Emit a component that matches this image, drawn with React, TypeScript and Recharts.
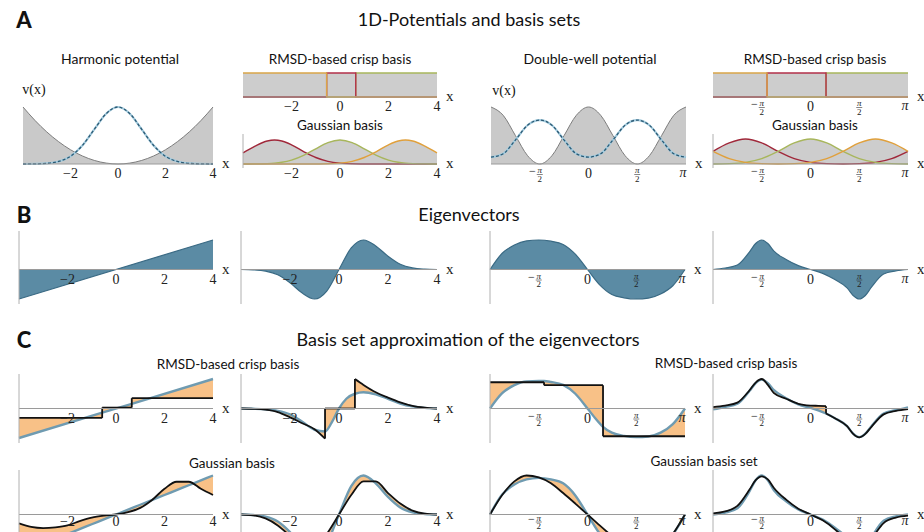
import React from 'react';
import { ComposedChart, Area, Line, Scatter, XAxis, YAxis, ReferenceLine } from 'recharts';

const SERIF = '"Liberation Serif", "Times New Roman", serif';
const SANS = 'Lato, "Open Sans", "DejaVu Sans", sans-serif';

// ---------- x grids ----------
const gridH = [-4, -3.5, -3, -2.5, -2, -1.5, -1, -0.5, 0, 0.5, 1, 1.5, 2, 2.5, 3, 3.5, 4];
const gridP = [-3.1416, -2.7489, -2.3562, -1.9635, -1.5708, -1.1781, -0.7854, -0.3927, 0, 0.3927, 0.7854, 1.1781, 1.5708, 1.9635, 2.3562, 2.7489, 3.1416];
const gridP2 = [-3.1416, -2.7489, -2.3562, -1.9635, -1.7671, -1.5708, -1.3744, -1.1781, -0.7854, -0.3927, 0, 0.3927, 0.7854, 1.1781, 1.3744, 1.5708, 1.7671, 1.9635, 2.3562, 2.7489, 3.1416];

// ---------- A: potentials & basis sets ----------
const harmonicPotential = [1, 0.766, 0.563, 0.391, 0.25, 0.141, 0.063, 0.016, 0, 0.016, 0.063, 0.141, 0.25, 0.391, 0.563, 0.766, 1];
const harmonicDensity = [0, 0.002, 0.011, 0.044, 0.135, 0.325, 0.607, 0.882, 1, 0.882, 0.607, 0.325, 0.135, 0.044, 0.011, 0.002, 0];
const crispEdgesH = [-4, -0.55, 0.65, 4];
const gaussGridH = [-4, -3.5, -3, -2.7, -2.4, -2, -1.5, -1, -0.5, 0, 0.5, 1, 1.5, 2, 2.4, 2.7, 3, 3.5, 4];
const gaussRedH = [0.465, 0.748, 0.96, 1, 0.96, 0.8, 0.52, 0.27, 0.111, 0.037, 0.01, 0.002, 0, 0, 0, 0, 0, 0, 0];
const gaussGreenH = [0.001, 0.004, 0.017, 0.037, 0.073, 0.163, 0.36, 0.635, 0.893, 1, 0.893, 0.635, 0.36, 0.163, 0.073, 0.037, 0.017, 0.004, 0.001];
const gaussOrangeH = [0, 0, 0, 0, 0, 0, 0, 0.002, 0.01, 0.037, 0.111, 0.27, 0.52, 0.8, 0.96, 1, 0.96, 0.748, 0.465];

const doubleWellPotential = [1, 0.854, 0.5, 0.146, 0, 0.146, 0.5, 0.854, 1, 0.854, 0.5, 0.146, 0, 0.146, 0.5, 0.854, 1];
const doubleWellDensity = [0.12, 0.18, 0.42, 0.68, 0.77, 0.68, 0.42, 0.18, 0.12, 0.18, 0.42, 0.68, 0.77, 0.68, 0.42, 0.18, 0.12];
const crispEdgesP = [-3.1416, -1.4, 0.5, 3.1416];
const gaussGridP = [-3.1416, -2.618, -2.0944, -1.5708, -1.0472, -0.5236, 0, 0.5236, 1.0472, 1.5708, 2.0944, 2.618, 3.1416];
const gaussRedP = [0.508, 0.845, 1, 0.845, 0.508, 0.218, 0.067, 0.015, 0.002, 0.015, 0.067, 0.218, 0.508];
const gaussGreenP = [0.002, 0.015, 0.067, 0.218, 0.508, 0.845, 1, 0.845, 0.508, 0.218, 0.067, 0.015, 0.002];
const gaussOrangeP = [0.508, 0.218, 0.067, 0.015, 0.002, 0.015, 0.067, 0.218, 0.508, 0.845, 1, 0.845, 0.508];

// ---------- B: eigenvectors ----------
const eigLinearX = [-4, 4];
const eigLinear = [-1, 1];
const eigHarmonic2 = [0, -0.013, -0.055, -0.18, -0.45, -0.8, -1, -0.73, 0, 0.73, 1, 0.8, 0.45, 0.18, 0.055, 0.013, 0];
const eigDoubleWell1 = [0, 0.55, 0.83, 0.97, 1, 0.96, 0.85, 0.52, 0, -0.52, -0.85, -0.96, -1, -0.97, -0.83, -0.55, 0];
const eigDoubleWell2 = [0, 0.05, 0.15, 0.6, 0.88, 1, 0.88, 0.62, 0.34, 0.13, 0, -0.13, -0.34, -0.62, -0.88, -1, -0.88, -0.6, -0.15, -0.05, 0];

// ---------- C1: crisp-basis approximations ----------
const c1LinX = [-4, -0.57, -0.57, 0.65, 0.65, 4];
const c1LinExact = [-1, -0.14, -0.14, 0.16, 0.16, 1];
const c1LinApprox = [-0.32, -0.32, 0.03, 0.03, 0.35, 0.35];

const c1HX = [-4, -3.5, -3, -2.5, -2, -1.5, -1, -0.57, -0.57, -0.3, 0, 0.3, 0.65, 0.65, 1, 1.5, 2, 2.5, 3, 3.5, 4];
const c1HExact = [0, -0.01, -0.03, -0.08, -0.2, -0.45, -0.72, -0.78, -0.78, -0.48, 0, 0.33, 0.5, 0.5, 0.55, 0.48, 0.33, 0.17, 0.07, 0.02, 0];
const c1HApprox = [0, -0.01, -0.04, -0.12, -0.3, -0.5, -0.7, -1.02, 0, 0, 0, 0, 0, 1.0, 0.8, 0.55, 0.37, 0.21, 0.09, 0.03, 0];

const c1PX1 = [-3.1416, -2.7489, -2.3562, -1.9635, -1.5708, -1.4, -1.4, -1.1781, -0.7854, -0.3927, 0, 0.25, 0.5, 0.5, 0.7854, 1.1781, 1.5708, 1.9635, 2.3562, 2.7489, 3.1416];
const c1PExact1 = [0, 0.52, 0.79, 0.92, 0.93, 0.93, 0.93, 0.9, 0.8, 0.5, 0, -0.33, -0.62, -0.62, -0.82, -0.93, -0.97, -0.95, -0.82, -0.53, 0];
const c1PApprox1 = [0.89, 0.89, 0.89, 0.89, 0.89, 0.89, 0.79, 0.79, 0.79, 0.79, 0.79, 0.79, 0.79, -0.94, -0.94, -0.94, -0.94, -0.94, -0.94, -0.94, -0.94];

const c1PX2 = [-3.1416, -2.7489, -2.3562, -1.9635, -1.7671, -1.5708, -1.3744, -1.1781, -0.7854, -0.3927, 0, 0.25, 0.5, 0.5, 0.7854, 1.1781, 1.3744, 1.5708, 1.7671, 1.9635, 2.3562, 2.7489, 3.1416];
const c1PExact2 = [-0.03, 0.05, 0.16, 0.6, 0.86, 0.98, 0.86, 0.62, 0.35, 0.14, 0.02, -0.06, -0.17, -0.17, -0.33, -0.6, -0.85, -0.97, -0.85, -0.6, -0.17, -0.06, 0.04];
const c1PApprox2 = [0.05, 0.1, 0.2, 0.62, 0.88, 1.0, 0.8, 0.52, 0.33, 0.16, 0.1, 0.09, 0.08, -0.17, -0.33, -0.6, -0.86, -0.98, -0.86, -0.62, -0.2, -0.08, -0.02];

// ---------- C2: Gaussian-basis approximations ----------
const c2LinExact = [-1, -0.875, -0.75, -0.625, -0.5, -0.375, -0.25, -0.125, 0, 0.125, 0.25, 0.375, 0.5, 0.625, 0.75, 0.875, 1];
const c2LinApprox = [-0.23, -0.32, -0.35, -0.33, -0.28, -0.17, -0.08, -0.03, 0, 0.06, 0.17, 0.38, 0.66, 0.84, 0.84, 0.66, 0.5];
const c2HExact = [0, -0.013, -0.055, -0.18, -0.45, -0.8, -1, -0.73, 0, 0.73, 1, 0.8, 0.45, 0.18, 0.055, 0.013, 0];
const c2HApprox = [0, -0.02, -0.1, -0.28, -0.55, -0.85, -0.85, -0.5, 0, 0.5, 0.85, 0.85, 0.55, 0.28, 0.1, 0.02, 0];
const c2PExact1 = [0, 0.51, 0.77, 0.9, 0.94, 0.9, 0.8, 0.49, 0, -0.49, -0.8, -0.9, -0.94, -0.9, -0.77, -0.51, 0];
const c2PApprox1 = [0, 0.5, 0.85, 1.0, 0.95, 0.8, 0.55, 0.28, 0, -0.28, -0.55, -0.8, -0.95, -1.0, -0.85, -0.5, 0];
const c2PExact2 = [0, 0.05, 0.16, 0.6, 0.88, 1, 0.88, 0.62, 0.34, 0.13, 0, -0.13, -0.34, -0.62, -0.88, -1, -0.88, -0.6, -0.16, -0.05, 0];
const c2PApprox2 = [0.03, 0.08, 0.22, 0.64, 0.88, 0.98, 0.9, 0.68, 0.38, 0.15, 0, -0.15, -0.38, -0.68, -0.9, -0.98, -0.88, -0.64, -0.22, -0.08, -0.03];

// ---------- tick labels ----------
type Tick = { v: number; t: string };
const ticksH: Tick[] = [{ v: -2, t: '−2' }, { v: 0, t: '0' }, { v: 2, t: '2' }, { v: 4, t: '4' }];
const ticksP: Tick[] = [{ v: -1.5708, t: '−π/2' }, { v: 0, t: '0' }, { v: 1.5708, t: 'π/2' }, { v: 3.1416, t: 'π' }];
const H_DOM: [number, number] = [-4, 4];
const P_DOM: [number, number] = [-3.1416, 3.1416];

// ---------- colours ----------
const GRAY_FILL = '#cdcdcd';
const TEAL_FILL = '#5b8ba4';
const TEAL_LINE = '#3a6a84';
const EXACT = '#6f9bb1';
const APPROX = '#111111';
const ORANGE_FILL = '#f8c187';
const BASIS_COLORS = ['#d9a548', '#b3304a', '#a8b65c'];
const GAUSS_COLORS = ['#a0283a', '#a8b65c', '#e0a03c'];

// ---------- helpers to build series ----------
type Curve = 'monotone' | 'linear';
type Pt = { x: number; y: number | [number, number] };
type Spec = { kind: 'area' | 'line' | 'band'; data: Pt[]; stroke?: string; fill?: string; sw?: number; dash?: string; curve?: Curve };

const pts = (xs: number[], ys: number[]): Pt[] => xs.map((x, i) => ({ x, y: ys[i] }));

function splitRuns(xs: number[]): number[][] {
  const out: number[][] = [];
  let cur = [0];
  for (let i = 1; i < xs.length; i++) {
    if (xs[i] === xs[i - 1]) { out.push(cur); cur = [i]; } else cur.push(i);
  }
  out.push(cur);
  return out;
}
function uniq(xs: number[], ys: number[]): Pt[] {
  const out: Pt[] = [];
  xs.forEach((x, i) => { if (i === 0 || x !== xs[i - 1]) out.push({ x, y: ys[i] }); });
  return out;
}
function stepLine(xs: number[], ys: number[], stroke: string, sw: number, curve: Curve = 'monotone'): Spec[] {
  const out: Spec[] = [];
  splitRuns(xs).forEach((run, k) => {
    out.push({ kind: 'line', data: run.map((i) => ({ x: xs[i], y: ys[i] })), stroke, sw, curve });
    if (k > 0) {
      const i = run[0];
      out.push({ kind: 'line', data: [{ x: xs[i - 1], y: ys[i - 1] }, { x: xs[i], y: ys[i] }], stroke, sw, curve: 'linear' });
    }
  });
  return out;
}
function stepBand(xs: number[], a: number[], b: number[], fill: string, curve: Curve = 'monotone'): Spec[] {
  return splitRuns(xs).map((run) => ({ kind: 'band' as const, data: run.map((i) => ({ x: xs[i], y: [a[i], b[i]] as [number, number] })), fill, curve }));
}
function crispSeries(edges: number[], i: number): Pt[] {
  const a = edges[i], b = edges[i + 1], lo = edges[0], hi = edges[edges.length - 1];
  const p: Pt[] = [];
  if (a > lo) p.push({ x: lo, y: 0 }, { x: a, y: 0 });
  p.push({ x: a, y: 1 }, { x: b, y: 1 });
  if (b < hi) p.push({ x: b, y: 0 }, { x: hi, y: 0 });
  return p;
}
function crispSpecs(edges: number[]): Spec[] {
  const idx = edges.slice(0, -1).map((_, i) => i);
  return [
    ...idx.map((i) => ({ kind: 'area' as const, data: crispSeries(edges, i), fill: GRAY_FILL, curve: 'linear' as Curve })),
    ...[2, 1, 0].map((i) => ({ kind: 'line' as const, data: crispSeries(edges, i), stroke: BASIS_COLORS[i], sw: 1.4, curve: 'linear' as Curve })),
  ];
}
function gaussSpecs(xs: number[], sets: number[][]): Spec[] {
  return [
    ...sets.map((s) => ({ kind: 'area' as const, data: pts(xs, s), fill: GRAY_FILL })),
    ...sets.map((s, i) => ({ kind: 'line' as const, data: pts(xs, s), stroke: GAUSS_COLORS[i], sw: 1.4 })),
  ];
}
function potentialSpecs(xs: number[], pot: number[], dens: number[]): Spec[] {
  return [
    { kind: 'area', data: pts(xs, pot), fill: '#c9c9c9', stroke: '#7d7d7d', sw: 1 },
    { kind: 'line', data: pts(xs, dens), stroke: '#a3cbde', sw: 2.2 },
    { kind: 'line', data: pts(xs, dens), stroke: '#2c5a74', sw: 1.3, dash: '3 2' },
  ];
}
function eigSpecs(xs: number[], ys: number[], curve: Curve = 'monotone'): Spec[] {
  return [{ kind: 'area', data: pts(xs, ys), fill: TEAL_FILL, stroke: TEAL_LINE, sw: 1.2, curve }];
}
function approxSpecs(xs: number[], exact: number[], approx: number[], curve: Curve = 'monotone'): Spec[] {
  return [
    ...stepBand(xs, exact, approx, ORANGE_FILL, curve),
    { kind: 'line', data: uniq(xs, exact), stroke: EXACT, sw: 2.4, curve },
    ...stepLine(xs, approx, APPROX, 1.8, curve),
  ];
}

// ---------- tick label shape ----------
function TickShape(p: any) {
  const d = p.payload ?? p;
  const cx = p.cx;
  const cy0 = p.cy;
  if (cx == null || cy0 == null) return null;
  const cy = cy0 + (d.dy ?? 0);
  const common = { fontFamily: SERIF, fill: '#222' };
  if (d.kind === 'axis') {
    return <text x={cx + 9} y={cy0 + 4} fontSize={15} {...common}>x</text>;
  }
  const t: string = d.t;
  if (t.includes('/')) {
    const neg = t.startsWith('−');
    return (
      <g>
        {neg && <text x={cx - 4} y={cy + 11} textAnchor="end" fontSize={12} {...common}>−</text>}
        <text x={cx} y={cy + 9} textAnchor="middle" fontSize={9} fontStyle="italic" {...common}>π</text>
        <line x1={cx - 3} x2={cx + 3} y1={cy + 10.5} y2={cy + 10.5} stroke="#333" strokeWidth={0.6} />
        <text x={cx} y={cy + 17.5} textAnchor="middle" fontSize={9} {...common}>2</text>
      </g>
    );
  }
  if (t === 'π') return <text x={cx - 3} y={cy + 13} textAnchor="middle" fontSize={14} fontStyle="italic" {...common}>π</text>;
  return <text x={cx} y={cy + 14} textAnchor="middle" fontSize={14} {...common}>{t}</text>;
}

// ---------- one small panel ----------
type MiniProps = {
  L: number; R: number; axis: number; scale: number; T: number; B: number;
  xDomain: [number, number]; ticks: Tick[]; series: Spec[]; yAxisLine?: boolean; labelDy?: number;
};
function Mini({ L, R, axis, scale, T, B, xDomain, ticks, series, yAxisLine, labelDy = 0 }: MiniProps) {
  const M = 4;
  const yDomain: [number, number] = [-(B - axis) / scale, (axis - T) / scale];
  const labelData = [
    ...ticks.map((t) => ({ x: t.v, y: 0, t: t.t, kind: 'tick', dy: labelDy })),
    { x: xDomain[1], y: 0, t: 'x', kind: 'axis', dy: 0 },
  ];
  return (
    <div style={{ position: 'absolute', left: L - M, top: T - M }}>
      <ComposedChart width={R - L + 2 * M} height={B - T + 2 * M} margin={{ left: M, right: M, top: M, bottom: M }}>
        <XAxis type="number" dataKey="x" domain={xDomain} hide />
        <YAxis type="number" domain={yDomain} hide />
        {series.map((s, i) => {
          const curve = s.curve ?? 'monotone';
          if (s.kind === 'line')
            return <Line key={i} data={s.data} dataKey="y" type={curve} stroke={s.stroke} strokeWidth={s.sw} strokeDasharray={s.dash} dot={false} activeDot={false} isAnimationActive={false} />;
          if (s.kind === 'band')
            return <Area key={i} data={s.data} dataKey="y" type={curve} stroke="none" fill={s.fill} fillOpacity={1} dot={false} activeDot={false} isAnimationActive={false} />;
          return <Area key={i} data={s.data} dataKey="y" type={curve} baseValue={0} stroke={s.stroke ?? 'none'} strokeWidth={s.sw ?? 1} fill={s.fill} fillOpacity={1} dot={false} activeDot={false} isAnimationActive={false} />;
        })}
        <ReferenceLine y={0} stroke="#9a9a9a" strokeWidth={1} />
        {yAxisLine && <ReferenceLine x={xDomain[0]} stroke="#b0b0b0" strokeWidth={1} />}
        <Scatter data={labelData} dataKey="y" shape={(p: any) => <TickShape {...p} />} isAnimationActive={false} />
      </ComposedChart>
    </div>
  );
}

function Txt({ x, y, size = 14, children, weight = 400, family = SANS }: { x: number; y: number; size?: number; children: React.ReactNode; weight?: number; family?: string }) {
  const w = 600;
  return (
    <div style={{ position: 'absolute', left: x - w / 2, top: y - size * 0.6, width: w, textAlign: 'center', fontSize: size, lineHeight: `${size * 1.2}px`, fontFamily: family, fontWeight: weight, color: '#111', whiteSpace: 'nowrap' }}>
      {children}
    </div>
  );
}

const XL = [19, 241, 490, 713];
const XR = [213, 437, 685, 908];

export default function App() {
  const rowB = { axis: 269.5, scale: 29.5, T: 231, B: 304, yAxisLine: true };
  const rowC1 = { axis: 408.5, scale: 29.5, T: 374, B: 443, yAxisLine: true };
  const rowC2 = { axis: 514.5, scale: 39, T: 470, B: 580, yAxisLine: true, labelDy: -3 };
  return (
    <div style={{ position: 'absolute', left: 0, top: 0, width: 924, height: 532, overflow: 'hidden', background: '#fff' }}>
      <style>{`.recharts-surface{overflow:visible}`}</style>

      {/* Panel letters and titles */}
      <Txt x={24} y={20} size={22} weight={900}>A</Txt>
      <Txt x={24} y={215} size={22} weight={900}>B</Txt>
      <Txt x={24} y={340} size={22} weight={900}>C</Txt>
      <Txt x={469} y={20} size={18}>1D-Potentials and basis sets</Txt>
      <Txt x={469} y={215} size={18}>Eigenvectors</Txt>
      <Txt x={468} y={340} size={18}>Basis set approximation of the eigenvectors</Txt>

      <Txt x={120} y={59} size={14}>Harmonic potential</Txt>
      <Txt x={340} y={59} size={13.5}>RMSD-based crisp basis</Txt>
      <Txt x={340} y={125} size={13.5}>Gaussian basis</Txt>
      <Txt x={590} y={59} size={14}>Double-well potential</Txt>
      <Txt x={815} y={59} size={13.5}>RMSD-based crisp basis</Txt>
      <Txt x={815} y={125} size={13.5}>Gaussian basis</Txt>
      <Txt x={228} y={364} size={13.5}>RMSD-based crisp basis</Txt>
      <Txt x={726} y={363} size={13.5}>RMSD-based crisp basis</Txt>
      <Txt x={232} y={463} size={13.5}>Gaussian basis</Txt>
      <Txt x={704} y={461} size={13.5}>Gaussian basis set</Txt>

      <Txt x={34} y={90} size={14} family={SERIF}>v(x)</Txt>
      <Txt x={504} y={91} size={14} family={SERIF}>v(x)</Txt>

      {/* Panel A */}
      <Mini L={23} R={213} axis={164} scale={57} T={100} B={168} xDomain={H_DOM} ticks={ticksH} series={potentialSpecs(gridH, harmonicPotential, harmonicDensity)} />
      <Mini L={243} R={437} axis={97} scale={24} T={70} B={100} xDomain={H_DOM} ticks={ticksH} series={crispSpecs(crispEdgesH)} />
      <Mini L={243} R={437} axis={164} scale={24} T={134} B={168} xDomain={H_DOM} ticks={ticksH} yAxisLine series={gaussSpecs(gaussGridH, [gaussRedH, gaussGreenH, gaussOrangeH])} />
      <Mini L={491} R={686} axis={164} scale={57} T={100} B={168} xDomain={P_DOM} ticks={ticksP} series={potentialSpecs(gridP, doubleWellPotential, doubleWellDensity)} />
      <Mini L={713} R={908} axis={97} scale={24} T={70} B={100} xDomain={P_DOM} ticks={ticksP} series={crispSpecs(crispEdgesP)} />
      <Mini L={713} R={908} axis={164} scale={25} T={134} B={168} xDomain={P_DOM} ticks={ticksP} yAxisLine series={gaussSpecs(gaussGridP, [gaussRedP, gaussGreenP, gaussOrangeP])} />

      {/* Panel B */}
      <Mini L={XL[0]} R={XR[0]} {...rowB} xDomain={H_DOM} ticks={ticksH} series={eigSpecs(eigLinearX, eigLinear, 'linear')} />
      <Mini L={XL[1]} R={XR[1]} {...rowB} xDomain={H_DOM} ticks={ticksH} series={eigSpecs(gridH, eigHarmonic2)} />
      <Mini L={XL[2]} R={XR[2]} {...rowB} xDomain={P_DOM} ticks={ticksP} series={eigSpecs(gridP, eigDoubleWell1)} />
      <Mini L={XL[3]} R={XR[3]} {...rowB} xDomain={P_DOM} ticks={ticksP} series={eigSpecs(gridP2, eigDoubleWell2)} />

      {/* Panel C, crisp basis */}
      <Mini L={XL[0]} R={XR[0]} {...rowC1} xDomain={H_DOM} ticks={ticksH} series={approxSpecs(c1LinX, c1LinExact, c1LinApprox, 'linear')} />
      <Mini L={XL[1]} R={XR[1]} {...rowC1} xDomain={H_DOM} ticks={ticksH} series={approxSpecs(c1HX, c1HExact, c1HApprox)} />
      <Mini L={XL[2]} R={XR[2]} {...rowC1} xDomain={P_DOM} ticks={ticksP} series={approxSpecs(c1PX1, c1PExact1, c1PApprox1)} />
      <Mini L={XL[3]} R={XR[3]} {...rowC1} xDomain={P_DOM} ticks={ticksP} series={approxSpecs(c1PX2, c1PExact2, c1PApprox2)} />

      {/* Panel C, Gaussian basis */}
      <Mini L={XL[0]} R={XR[0]} {...rowC2} xDomain={H_DOM} ticks={ticksH} series={approxSpecs(gridH, c2LinExact, c2LinApprox)} />
      <Mini L={XL[1]} R={XR[1]} {...rowC2} xDomain={H_DOM} ticks={ticksH} series={approxSpecs(gridH, c2HExact, c2HApprox)} />
      <Mini L={XL[2]} R={XR[2]} {...rowC2} xDomain={P_DOM} ticks={ticksP} series={approxSpecs(gridP, c2PExact1, c2PApprox1)} />
      <Mini L={XL[3]} R={XR[3]} {...rowC2} xDomain={P_DOM} ticks={ticksP} series={approxSpecs(gridP2, c2PExact2, c2PApprox2)} />
    </div>
  );
}
